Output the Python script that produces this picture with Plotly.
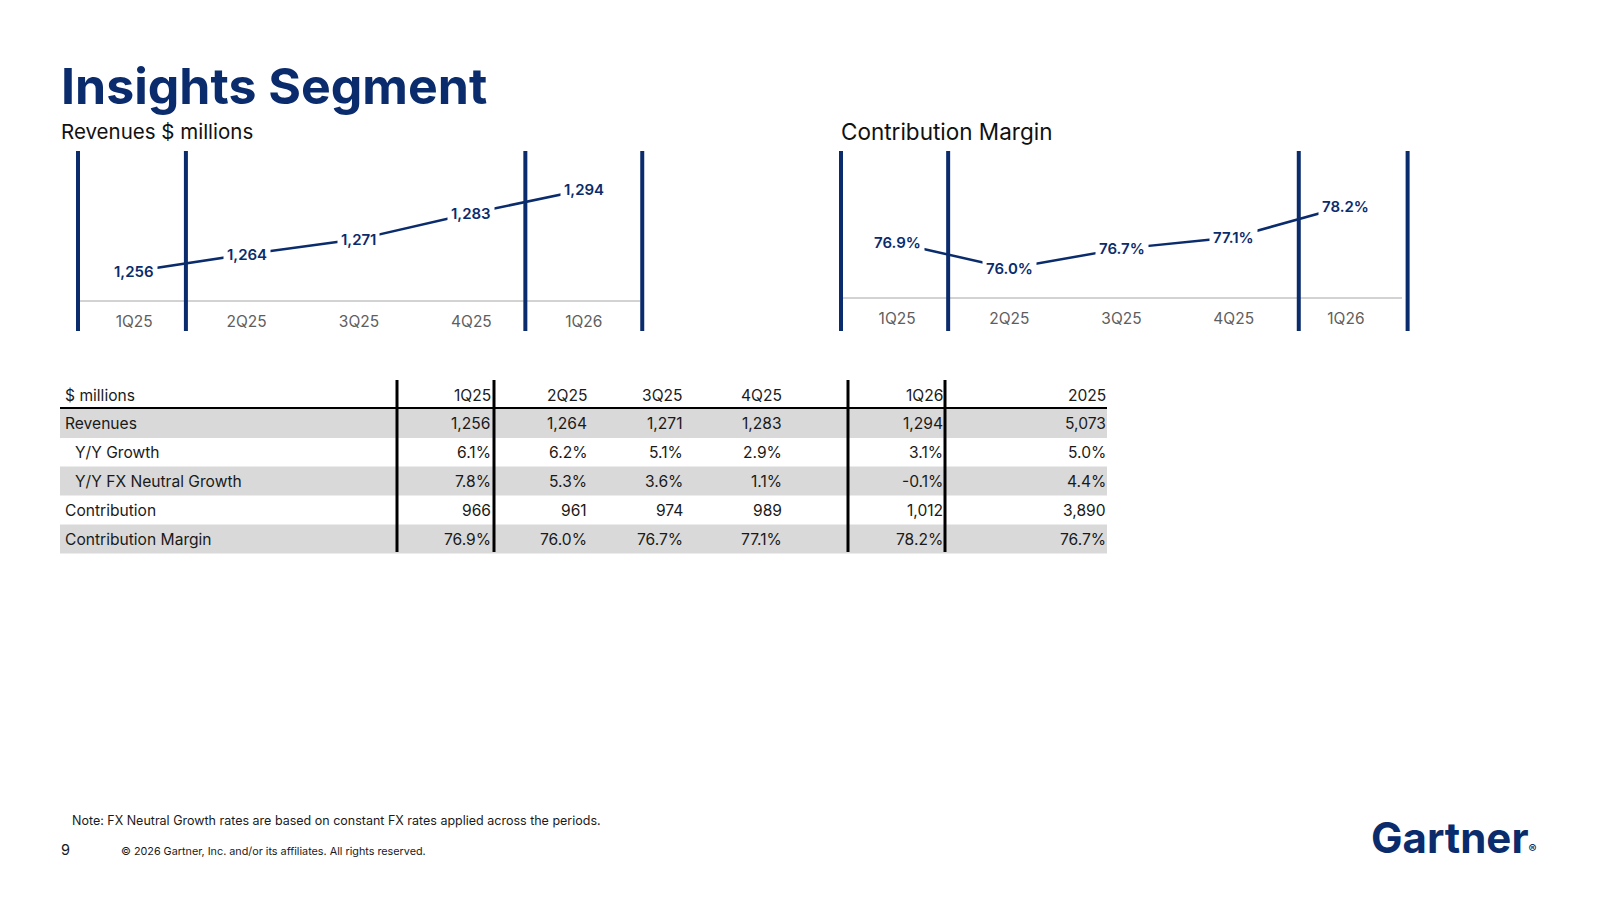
import plotly.graph_objects as go

# ---------------- data ----------------
quarters = ["1Q25", "2Q25", "3Q25", "4Q25", "1Q26"]
revenues = [1256, 1264, 1271, 1283, 1294]
contrib_margin = [76.9, 76.0, 76.7, 77.1, 78.2]

table_cols = ["1Q25", "2Q25", "3Q25", "4Q25", "1Q26", "2025"]
row_labels = ["Revenues", "Y/Y Growth", "Y/Y FX Neutral Growth", "Contribution", "Contribution Margin"]
row_revenues = [1256, 1264, 1271, 1283, 1294, 5073]
row_yy_growth = [6.1, 6.2, 5.1, 2.9, 3.1, 5.0]
row_fx_growth = [7.8, 5.3, 3.6, 1.1, -0.1, 4.4]
row_contribution = [966, 961, 974, 989, 1012, 3890]
row_margin = [76.9, 76.0, 76.7, 77.1, 78.2, 76.7]

# ---------------- style ----------------
W, H = 1600, 900
NAVY = "#0A2B6C"
GRAY_AX = "#A6A6A6"
TICK_C = "#5E5E5E"
FONT = "Inter"

def px(x):
    return x / W

def py(y):
    return 1 - y / H

fig = go.Figure()

fig.add_trace(go.Scatter(x=quarters, y=revenues, mode="lines",
                         line=dict(color=NAVY, width=2.5), xaxis="x", yaxis="y",
                         hoverinfo="skip", showlegend=False))
fig.add_trace(go.Scatter(x=quarters, y=contrib_margin, mode="lines",
                         line=dict(color=NAVY, width=2.5), xaxis="x2", yaxis="y2",
                         hoverinfo="skip", showlegend=False))

annotations = []
shapes = []

# data labels with white background
for q, v in zip(quarters, revenues):
    annotations.append(dict(x=q, y=v, xref="x", yref="y", text=f"{v:,}", showarrow=False,
                            bgcolor="white", borderpad=3,
                            font=dict(family=FONT, size=15, color=NAVY, weight=600)))
for q, v in zip(quarters, contrib_margin):
    annotations.append(dict(x=q, y=v, xref="x2", yref="y2", text=f"{v:.1f}%", showarrow=False,
                            bgcolor="white", borderpad=3,
                            font=dict(family=FONT, size=15, color=NAVY, weight=600)))

# axis baselines between the outer separators
for xr, yr in (("x", "y domain"), ("x2", "y2 domain")):
    shapes.append(dict(type="line", xref=xr, yref=yr, x0=-0.5, x1=4.5, y0=0, y1=0,
                       line=dict(color=GRAY_AX, width=1)))

# vertical separators in the charts
for xr, xs in (("x", [-0.5, 0.46, 3.48, 4.52]), ("x2", [-0.5, 0.455, 3.58, 4.55])):
    for xv in xs:
        shapes.append(dict(type="line", xref=xr, yref="paper", x0=xv, x1=xv,
                           y0=py(331), y1=py(151), line=dict(color=NAVY, width=4)))

# title and subtitles
annotations.append(dict(x=px(59), y=py(86), xref="paper", yref="paper", xanchor="left", yanchor="middle",
                        text="Insights Segment", showarrow=False,
                        font=dict(family=FONT, size=50, color=NAVY, weight=700)))
annotations.append(dict(x=px(59), y=py(131), xref="paper", yref="paper", xanchor="left", yanchor="middle",
                        text="Revenues $ millions", showarrow=False,
                        font=dict(family=FONT, size=20.5, color="#111111")))
annotations.append(dict(x=px(839), y=py(131), xref="paper", yref="paper", xanchor="left", yanchor="middle",
                        text="Contribution Margin", showarrow=False,
                        font=dict(family=FONT, size=22.5, color="#111111")))

# ---------------- table ----------------
TBL_L, TBL_R = 60, 1107
header_y = 395
row_ys = [423.5, 453, 481, 510, 539]
row_h = 28.8
col_right = [493, 589, 685, 784, 945, 1108]
label_x = [63, 73, 73, 63, 63]
shaded = [True, False, True, False, True]

for yc, sh in zip(row_ys, shaded):
    if sh:
        shapes.append(dict(type="rect", xref="paper", yref="paper", x0=px(TBL_L), x1=px(TBL_R),
                           y0=py(yc + row_h / 2), y1=py(yc - row_h / 2),
                           fillcolor="#D9D9D9", line=dict(width=0), layer="below"))

shapes.append(dict(type="line", xref="paper", yref="paper", x0=px(TBL_L), x1=px(TBL_R),
                   y0=py(408), y1=py(408), line=dict(color="#000000", width=2)))
for xv in (397, 494, 848, 945):
    shapes.append(dict(type="line", xref="paper", yref="paper", x0=px(xv), x1=px(xv),
                       y0=py(380), y1=py(552), line=dict(color="#000000", width=3)))

TFONT = dict(family=FONT, size=15.6, color="#1A1A1A")
annotations.append(dict(x=px(63), y=py(header_y), xref="paper", yref="paper", xanchor="left",
                        yanchor="middle", text="$ millions", showarrow=False, font=TFONT))
for c, xr in zip(table_cols, col_right):
    annotations.append(dict(x=px(xr), y=py(header_y), xref="paper", yref="paper", xanchor="right",
                            yanchor="middle", text=c, showarrow=False, font=TFONT))

def fmt_num(v):
    return f"{v:,}"

def fmt_pct(v):
    return f"{v:.1f}%"

rows = [
    (row_revenues, fmt_num),
    (row_yy_growth, fmt_pct),
    (row_fx_growth, fmt_pct),
    (row_contribution, fmt_num),
    (row_margin, fmt_pct),
]
for label, lx, yc, (vals, f) in zip(row_labels, label_x, row_ys, rows):
    annotations.append(dict(x=px(lx), y=py(yc), xref="paper", yref="paper", xanchor="left",
                            yanchor="middle", text=label, showarrow=False, font=TFONT))
    for v, xr in zip(vals, col_right):
        annotations.append(dict(x=px(xr), y=py(yc), xref="paper", yref="paper", xanchor="right",
                                yanchor="middle", text=f(v), showarrow=False, font=TFONT))

# ---------------- footer ----------------
annotations.append(dict(x=px(70), y=py(820), xref="paper", yref="paper", xanchor="left", yanchor="middle",
                        text="Note: FX Neutral Growth rates are based on constant FX rates applied across the periods.",
                        showarrow=False, font=dict(family=FONT, size=12.5, color="#1A1A1A")))
annotations.append(dict(x=px(59), y=py(849), xref="paper", yref="paper", xanchor="left", yanchor="middle",
                        text="9", showarrow=False, font=dict(family=FONT, size=14.5, color="#1A1A1A")))
annotations.append(dict(x=px(119), y=py(851), xref="paper", yref="paper", xanchor="left", yanchor="middle",
                        text="© 2026 Gartner, Inc. and/or its affiliates. All rights reserved.",
                        showarrow=False, font=dict(family=FONT, size=10.8, color="#1A1A1A")))
annotations.append(dict(x=px(1538), y=py(837), xref="paper", yref="paper", xanchor="right", yanchor="middle",
                        text="Gartner<span style='font-size:12px'>®</span>", showarrow=False,
                        font=dict(family=FONT, size=42, color=NAVY, weight=700)))

# category axes; range extended slightly so the outer separators are not clipped
EXT = 0.08
axis_common = dict(type="category", range=[-0.5 - EXT, 4.5 + EXT], showgrid=False, zeroline=False,
                   showline=False, ticks="outside", ticklen=6,
                   tickcolor="rgba(0,0,0,0)", tickfont=dict(family=FONT, size=15.5, color=TICK_C),
                   fixedrange=True)

def dom(left, right):
    unit = (right - left) / 5.0
    return [px(left - EXT * unit), px(right + EXT * unit)]

fig.update_layout(
    width=W, height=H, margin=dict(l=0, r=0, t=0, b=0),
    paper_bgcolor="white", plot_bgcolor="rgba(0,0,0,0)",
    showlegend=False,
    xaxis=dict(domain=dom(78, 640), anchor="y", categoryorder="array", categoryarray=quarters,
               **axis_common),
    yaxis=dict(domain=[py(301), py(151)], range=[1242.2, 1312.0], visible=False, fixedrange=True,
               anchor="x"),
    xaxis2=dict(domain=dom(841, 1402), anchor="y2", categoryorder="array", categoryarray=quarters,
                **axis_common),
    yaxis2=dict(domain=[py(298), py(151)], range=[74.96, 80.14], visible=False, fixedrange=True,
                anchor="x2"),
    annotations=annotations,
    shapes=shapes,
)

fig.write_html("out.html")
